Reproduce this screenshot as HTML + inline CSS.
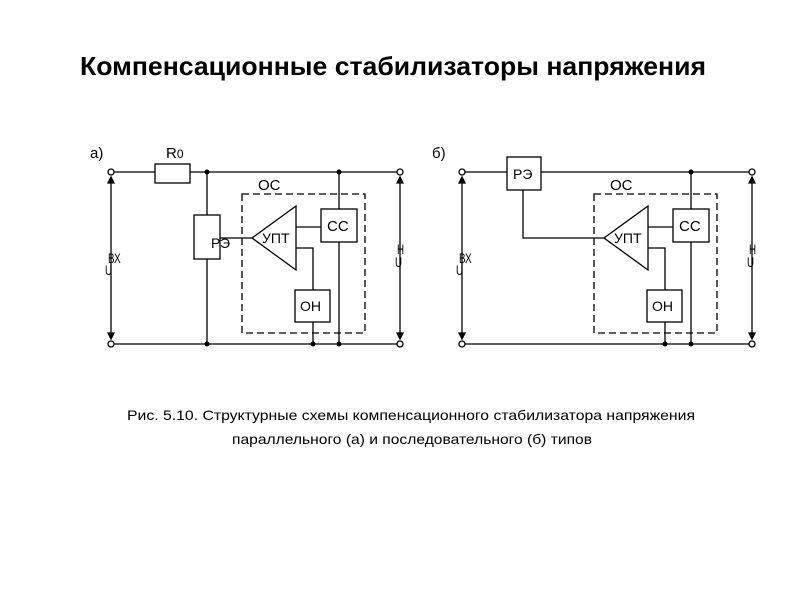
<!DOCTYPE html>
<html><head><meta charset="utf-8"><style>
html,body{margin:0;padding:0;background:#fff;}
svg{display:block;}
text{font-family:"Liberation Sans",sans-serif;fill:#000;}
</style></head><body>
<svg width="800" height="600" viewBox="0 0 800 600" xmlns="http://www.w3.org/2000/svg">
<defs>
<g id="inner" stroke="#000" stroke-width="1.3" fill="none">
  <rect x="242" y="194" width="123" height="139" stroke-dasharray="7,4"/>
  <polygon points="252,238 296,206 296,270" fill="#fff"/>
  <rect x="321" y="209" width="36" height="33" fill="#fff"/>
  <rect x="295" y="290" width="35" height="32" fill="#fff"/>
  <line x1="296" y1="227" x2="321" y2="227"/>
  <polyline points="296,248 313,248 313,290"/>
  <line x1="313" y1="322" x2="313" y2="344"/>
  <line x1="339" y1="172" x2="339" y2="209"/>
  <line x1="339" y1="242" x2="339" y2="344"/>
</g>
<g id="sides" stroke="#000" stroke-width="1.3">
  <line x1="111" y1="180" x2="111" y2="336"/>
  <polygon points="111,177 108,183 114,183" fill="#000"/>
  <polygon points="111,339 108,333 114,333" fill="#000"/>
</g>
</defs>

<text x="80" y="75" font-size="26" font-weight="bold" textLength="626" lengthAdjust="spacingAndGlyphs">Компенсационные стабилизаторы напряжения</text>

<!-- (a) -->
<text x="90" y="158" font-size="15">а)</text>
<g stroke="#000" stroke-width="1.3" fill="none">
  <line x1="114" y1="172" x2="155" y2="172"/>
  <rect x="155" y="164" width="35" height="19"/>
  <line x1="190" y1="172" x2="398" y2="172"/>
  <line x1="114" y1="344" x2="398" y2="344"/>
  <line x1="207" y1="172" x2="207" y2="215"/>
  <rect x="194" y="215" width="26" height="44"/>
  <line x1="207" y1="259" x2="207" y2="344"/>
  <line x1="220" y1="238" x2="252" y2="238"/>
</g>
<use href="#inner"/>
<use href="#sides"/>
<use href="#sides" transform="translate(289,0)"/>
<g stroke="#000" stroke-width="1.3" fill="#fff">
  <circle cx="111" cy="172" r="3"/><circle cx="111" cy="344" r="3"/>
  <circle cx="400" cy="172" r="3"/><circle cx="400" cy="344" r="3"/>
</g>
<g fill="#000">
  <circle cx="207" cy="172" r="2.5"/><circle cx="339" cy="172" r="2.5"/>
  <circle cx="207" cy="344" r="2.5"/><circle cx="313" cy="344" r="2.5"/><circle cx="339" cy="344" r="2.5"/>
</g>
<text x="166" y="158" font-size="15">R<tspan font-size="12">0</tspan></text>
<text x="211" y="248" font-size="14">Р</text><text x="220" y="248" font-size="14">Э</text>
<text x="258" y="190" font-size="15">ОС</text>
<text x="262" y="243" font-size="14">УПТ</text>
<text x="327" y="231" font-size="15">СС</text>
<text x="300" y="311" font-size="14">ОН</text>
<text transform="translate(108,263) scale(0.7,1)" font-size="14">ВХ</text>
<text transform="translate(105,275) scale(0.7,1)" font-size="14">U</text>
<text transform="translate(397,254) scale(0.7,1)" font-size="14">Н</text>
<text transform="translate(395,267) scale(0.7,1)" font-size="14">U</text>

<!-- (b) -->
<text x="432" y="158" font-size="15">б)</text>
<g stroke="#000" stroke-width="1.3" fill="none">
  <line x1="465" y1="172" x2="507" y2="172"/>
  <rect x="507" y="157" width="34" height="33"/>
  <line x1="541" y1="172" x2="749" y2="172"/>
  <line x1="465" y1="344" x2="749" y2="344"/>
  <polyline points="523,190 523,238 604,238"/>
</g>
<use href="#inner" transform="translate(352,0)"/>
<use href="#sides" transform="translate(351,0)"/>
<use href="#sides" transform="translate(641,0)"/>
<g stroke="#000" stroke-width="1.3" fill="#fff">
  <circle cx="462" cy="172" r="3"/><circle cx="462" cy="344" r="3"/>
  <circle cx="752" cy="172" r="3"/><circle cx="752" cy="344" r="3"/>
</g>
<g fill="#000">
  <circle cx="691" cy="172" r="2.5"/>
  <circle cx="665" cy="344" r="2.5"/><circle cx="691" cy="344" r="2.5"/>
</g>
<text x="513" y="179" font-size="14">РЭ</text>
<text x="610" y="190" font-size="15">ОС</text>
<text x="614" y="243" font-size="14">УПТ</text>
<text x="679" y="231" font-size="15">СС</text>
<text x="652" y="311" font-size="14">ОН</text>
<text transform="translate(459,263) scale(0.7,1)" font-size="14">ВХ</text>
<text transform="translate(456,275) scale(0.7,1)" font-size="14">U</text>
<text transform="translate(749,254) scale(0.7,1)" font-size="14">Н</text>
<text transform="translate(747,267) scale(0.7,1)" font-size="14">U</text>

<text x="127" y="420" font-size="14" textLength="568" lengthAdjust="spacingAndGlyphs">Рис. 5.10.   Структурные схемы компенсационного стабилизатора напряжения</text>
<text x="232" y="444" font-size="14" textLength="360" lengthAdjust="spacingAndGlyphs">параллельного (а) и последовательного (б) типов</text>
</svg>
</body></html>
